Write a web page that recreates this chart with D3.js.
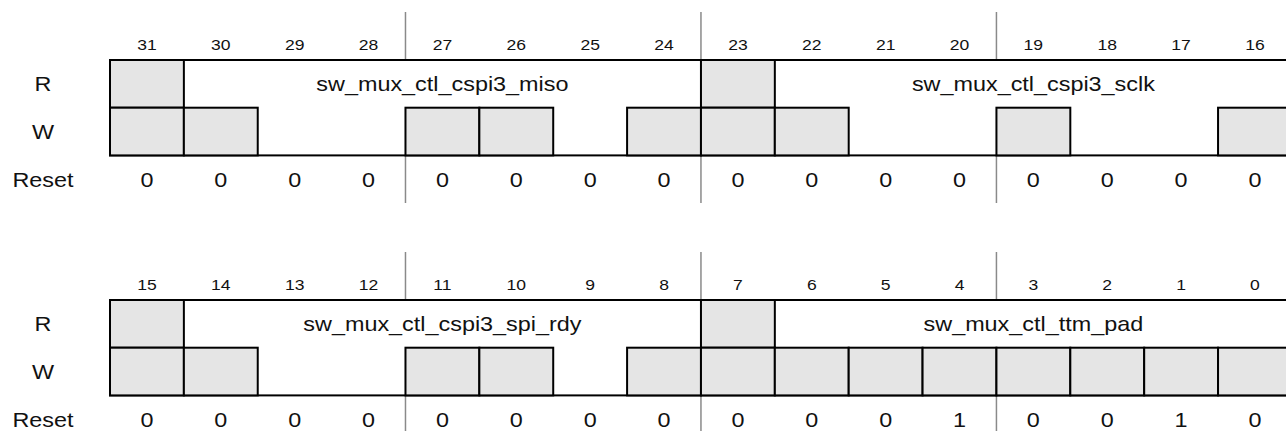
<!DOCTYPE html>
<html><head><meta charset="utf-8">
<script src="https://cdn.jsdelivr.net/npm/d3@7"></script>
<style>
body{margin:0;background:#fff}
svg{display:block}
text{font-family:"Liberation Sans",Arial,Helvetica,sans-serif;fill:#111}
</style>
</head><body>
<svg id="chart" width="1286" height="431"></svg>
<script>
// ---- data ----
const bits = d3.range(31, -1, -1);
const rowLabels = ["R", "W", "Reset"];
const readFields = [
  {name: "sw_mux_ctl_cspi3_miso", msb: 30, lsb: 24},
  {name: "sw_mux_ctl_cspi3_sclk", msb: 22, lsb: 16},
  {name: "sw_mux_ctl_cspi3_spi_rdy", msb: 14, lsb: 8},
  {name: "sw_mux_ctl_ttm_pad", msb: 6, lsb: 0}
];
const readReserved = [31, 23, 15, 7];
const writeReserved = [31, 30, 27, 26, 24, 23, 22, 19, 16, 15, 14, 11, 10, 8, 7, 6, 5, 4, 3, 2, 1, 0];
// reset values for bits 31..0
const resetValues = [0,0,0,0, 0,0,0,0, 0,0,0,0, 0,0,0,0,
                     0,0,0,0, 0,0,0,0, 0,0,0,1, 0,0,1,0];
const separatorBits = [27, 23, 19, 11, 7, 3];

// ---- layout ----
const cellW = 73.87, left = 110;
const x = d3.scaleLinear().domain([16, 0]).range([left, left + 16 * cellW]);
const blockY = b => (b >= 16 ? 0 : 240);
const numY = 45, boxTop = 60, rowH = 47.7, resetY = 180, sepTop = 12, sepBot = 203;
const labelX = 43;
const sx = 1.17;
const fsBig = 20, fsNum = 15;

const svg = d3.select("#chart");

function txt(g, xx, yy, s, fs) {
  return g.append("text")
    .attr("transform", `translate(${xx},${yy}) scale(${sx},1)`)
    .attr("text-anchor", "middle")
    .attr("dy", "0.36em")
    .style("font-size", fs + "px")
    .text(s);
}

const blocks = [16, 0];
blocks.forEach(base => {
  const oy = blockY(base);
  const g = svg.append("g").attr("transform", `translate(0,${oy})`);
  // separators
  separatorBits.filter(b => blockY(b) === oy).forEach(b => {
    g.append("line")
      .attr("x1", x(b % 16 + 1)).attr("x2", x(b % 16 + 1))
      .attr("y1", sepTop).attr("y2", sepBot)
      .attr("stroke", "#8a8a8a").attr("stroke-width", 1.5);
  });
  // outer box
  g.append("rect")
    .attr("x", x(16)).attr("y", boxTop)
    .attr("width", x(0) - x(16)).attr("height", 2 * rowH)
    .attr("fill", "#fff").attr("stroke", "#000").attr("stroke-width", 2);
  // reserved cells
  readReserved.filter(b => blockY(b) === oy).forEach(b => {
    g.append("rect")
      .attr("x", x(b % 16 + 1)).attr("y", boxTop)
      .attr("width", cellW).attr("height", rowH)
      .attr("fill", "#e5e5e5").attr("stroke", "#000").attr("stroke-width", 2);
  });
  writeReserved.filter(b => blockY(b) === oy).forEach(b => {
    g.append("rect")
      .attr("x", x(b % 16 + 1)).attr("y", boxTop + rowH)
      .attr("width", cellW).attr("height", rowH)
      .attr("fill", "#e5e5e5").attr("stroke", "#000").attr("stroke-width", 2);
  });
  // field names
  readFields.filter(f => blockY(f.lsb) === oy).forEach(f => {
    const cx = (x(f.msb % 16 + 1) + x(f.lsb % 16)) / 2;
    txt(g, cx, boxTop + rowH / 2, f.name, fsBig);
  });
  // bit numbers and reset values
  bits.filter(b => blockY(b) === oy).forEach(b => {
    const cx = (x(b % 16 + 1) + x(b % 16)) / 2;
    txt(g, cx, numY, String(b), fsNum);
    txt(g, cx, resetY, String(resetValues[31 - b]), fsBig);
  });
  // row labels
  txt(g, labelX, boxTop + rowH / 2, rowLabels[0], fsBig);
  txt(g, labelX, boxTop + rowH * 1.5, rowLabels[1], fsBig);
  txt(g, labelX, resetY, rowLabels[2], fsBig);
});
</script>
</body></html>
